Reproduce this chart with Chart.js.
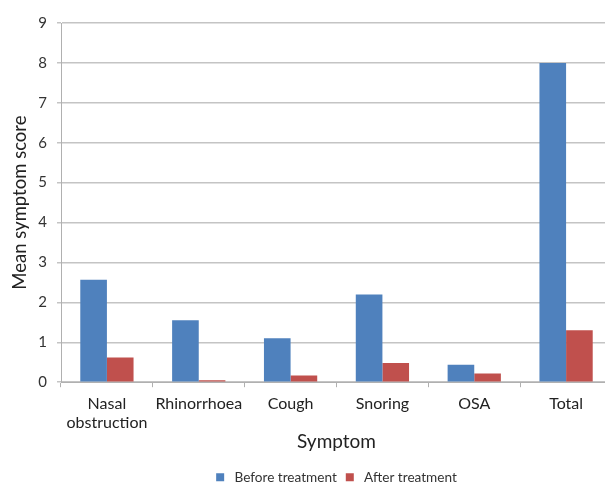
<!DOCTYPE html>
<html>
<head>
<meta charset="utf-8">
<script src="https://cdn.jsdelivr.net/npm/chart.js@4.4.1/dist/chart.umd.min.js"></script>
<style>
  html, body { margin: 0; padding: 0; background: #fff; overflow: hidden; }
  #wrap { width: 605px; height: 482px; overflow: hidden; }
</style>
</head>
<body>
<div id="wrap"><canvas id="c" width="612" height="482"></canvas></div>
<script>
// Mean symptom scores before and after treatment
const categories = [["Nasal", "obstruction"], "Rhinorrhoea", "Cough", "Snoring", "OSA", "Total"];
const beforeTreatment = [2.57, 1.55, 1.1, 2.2, 0.44, 8.0];
const afterTreatment = [0.62, 0.05, 0.17, 0.48, 0.22, 1.3];
const yTicks = [0, 1, 2, 3, 4, 5, 6, 7, 8, 9];

const FONT = "Lato, 'Open Sans', sans-serif";

// Centre the legend under the plot area instead of the whole canvas
const legendUnderPlot = {
  id: 'legendUnderPlot',
  afterLayout(chart) {
    const lg = chart.legend, ca = chart.chartArea;
    if (!lg || !ca) return;
    const shift = (ca.left + ca.right) / 2 - (lg.left + lg.right) / 2;
    lg.left += shift;
    lg.right += shift;
  }
};

new Chart(document.getElementById('c'), {
  type: 'bar',
  data: {
    labels: categories,
    datasets: [
      { label: ' Before treatment', data: beforeTreatment, backgroundColor: '#4F81BD', borderWidth: 0 },
      { label: ' After treatment', data: afterTreatment, backgroundColor: '#C0504D', borderWidth: 0 }
    ]
  },
  plugins: [legendUnderPlot],
  options: {
    responsive: false,
    animation: false,
    devicePixelRatio: 1,
    layout: { padding: { top: 23, left: 0, right: 0, bottom: -12 } },
    datasets: { bar: { categoryPercentage: 0.58, barPercentage: 1.0 } },
    plugins: {
      tooltip: { enabled: false },
      legend: {
        position: 'bottom',
        labels: {
          boxWidth: 8, boxHeight: 8, padding: 9,
          color: '#333', font: { family: FONT, size: 13.6 }
        }
      }
    },
    scales: {
      x: {
        offset: true,
        grid: {
          offset: true, drawOnChartArea: false, drawTicks: true, tickLength: 5,
          color: '#b0b0b0'
        },
        border: { color: '#b0b0b0', width: 1 },
        ticks: { color: '#222', font: { family: FONT, size: 16 }, padding: 7, maxRotation: 0, autoSkip: false },
        title: {
          display: true, text: 'Symptom', color: '#222',
          font: { family: FONT, size: 19 }, padding: { top: -9, bottom: 8 }
        }
      },
      y: {
        min: 0, max: 9,
        afterBuildTicks: (s) => { s.ticks = yTicks.map(v => ({ value: v })); },
        afterFit: (s) => { s.width = 61; },
        grid: { color: '#c4c4c4', lineWidth: 1.5, tickLength: 4 },
        border: { color: '#b0b0b0', width: 1 },
        ticks: { color: '#333', font: { family: FONT, size: 15 }, padding: 10 },
        title: {
          display: true, text: 'Mean symptom score', color: '#222',
          font: { family: FONT, size: 18.5 }, padding: { top: 9, bottom: 0 }
        }
      }
    }
  }
});
</script>
</body>
</html>
